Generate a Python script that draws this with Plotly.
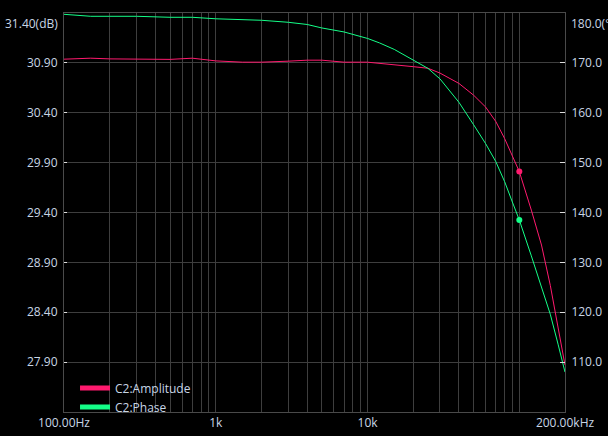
import plotly.graph_objects as go

# ---- data ----
freq_hz = [100, 120, 150, 200, 300, 500, 700, 1000, 1500, 2000, 3000, 4000, 5000, 7000,
           10000, 12000, 15000, 20000, 25000, 30000, 40000, 50000, 60000, 70000,
           80000, 90000, 100000, 120000, 140000, 160000, 180000, 200000]
amplitude_db = [30.937, 30.94, 30.947, 30.94, 30.937, 30.935, 30.947, 30.92, 30.907, 30.907,
                30.917, 30.927, 30.927, 30.907, 30.907, 30.897, 30.882, 30.862, 30.846,
                30.798, 30.694, 30.576, 30.457, 30.312, 30.142, 29.965, 29.81, 29.424,
                29.074, 28.67, 28.253, 27.87]
phase_deg = [179.74, 179.54, 179.34, 179.34, 179.34, 179.14, 179.14, 178.84, 178.74, 178.54,
             178.14, 177.7, 177.0, 176.2, 174.9, 174.0, 172.7, 170.6, 168.9, 166.8,
             162.1, 157.6, 153.8, 150.2, 146.2, 142.1, 138.5, 131.3, 124.9, 119.6,
             113.6, 108.0]

marker_freq = [100000]
marker_amp = [29.81]
marker_phase = [138.5]

amp_ticks = [27.90, 28.40, 28.90, 29.40, 29.90, 30.40, 30.90]
phase_ticks = [110, 120, 130, 140, 150, 160, 170]
top_amp_label = "31.40(dB)"
top_phase_label = "180.0(°)"
x_label_map = {100: "100.00Hz", 1000: "1k", 10000: "10k", 200000: "200.00kHz"}

series_names = ["C2:Amplitude", "C2:Phase"]

# ---- style ----
PINK = "#ff1a6e"
GREEN = "#14ff88"
TEXT = "#c8d6e6"
GRID = "#3e3e3e"
FRAME = "#4a4a4a"
FONT = "Open Sans"

# vertical grid positions: every 1..9 multiple in each decade
x_grid = []
for dec in [100, 1000, 10000, 100000]:
    for m in range(1, 10):
        v = dec * m
        if v <= 200000:
            x_grid.append(v)
x_text = [x_label_map.get(v, "") for v in x_grid]

fig = go.Figure()
fig.add_trace(go.Scatter(x=freq_hz, y=amplitude_db, mode="lines",
                         line=dict(color=PINK, width=1), yaxis="y", showlegend=False))
fig.add_trace(go.Scatter(x=freq_hz, y=phase_deg, mode="lines",
                         line=dict(color=GREEN, width=1), yaxis="y2", showlegend=False))
fig.add_trace(go.Scatter(x=marker_freq, y=marker_amp, mode="markers",
                         marker=dict(color=PINK, size=6), yaxis="y", showlegend=False))
fig.add_trace(go.Scatter(x=marker_freq, y=marker_phase, mode="markers",
                         marker=dict(color=GREEN, size=6), yaxis="y2", showlegend=False))
# legend entries (thick swatches)
fig.add_trace(go.Scatter(x=[None], y=[None], mode="lines", name=series_names[0],
                         line=dict(color=PINK, width=5)))
fig.add_trace(go.Scatter(x=[None], y=[None], mode="lines", name=series_names[1],
                         line=dict(color=GREEN, width=5)))

fig.update_layout(
    width=608, height=436,
    margin=dict(l=64, r=43, t=13, b=24, pad=0, autoexpand=False),
    paper_bgcolor="black", plot_bgcolor="black",
    font=dict(family=FONT, size=12, color=TEXT),
    xaxis=dict(type="log", range=[2, 5.30103], tickmode="array", tickvals=x_grid,
               ticktext=x_text, showgrid=True, gridcolor=GRID, gridwidth=1,
               ticks="", showline=True, linecolor=FRAME, mirror=True, zeroline=False,
               automargin=False, tickfont=dict(size=12, color=TEXT)),
    yaxis=dict(range=[27.40, 31.40], tickmode="array", tickvals=amp_ticks,
               ticktext=[f"{v:.2f}" for v in amp_ticks], showgrid=True, gridcolor=GRID,
               ticks="inside", ticklen=3, tickcolor="#dddddd", tickwidth=1,
               showline=True, linecolor=FRAME, zeroline=False, ticklabelstandoff=3,
               automargin=False),
    yaxis2=dict(range=[100, 180], overlaying="y", side="right", tickmode="array",
                tickvals=phase_ticks, ticktext=[f"{v:.1f}" for v in phase_ticks],
                showgrid=False, ticks="inside", ticklen=5, tickcolor="#dddddd",
                tickwidth=1, showline=True, linecolor=FRAME, zeroline=False,
                ticklabelstandoff=3, automargin=False),
    legend=dict(x=0.022, y=-0.024, xanchor="left", yanchor="bottom", bgcolor="rgba(0,0,0,0)",
                font=dict(size=12, color=TEXT), itemwidth=30, tracegroupgap=0),
    annotations=[
        dict(text=top_amp_label, xref="paper", yref="paper", x=0, y=1, xanchor="right",
             yanchor="top", xshift=-4, showarrow=False, font=dict(size=12, color=TEXT)),
        dict(text=top_phase_label, xref="paper", yref="paper", x=1, y=1, xanchor="left",
             yanchor="top", xshift=4, showarrow=False, font=dict(size=12, color=TEXT)),
    ],
    showlegend=True,
)

fig.write_html("out.html", config={"displayModeBar": False},
               post_script="document.body.style.margin='0';document.body.style.overflow='hidden';")
